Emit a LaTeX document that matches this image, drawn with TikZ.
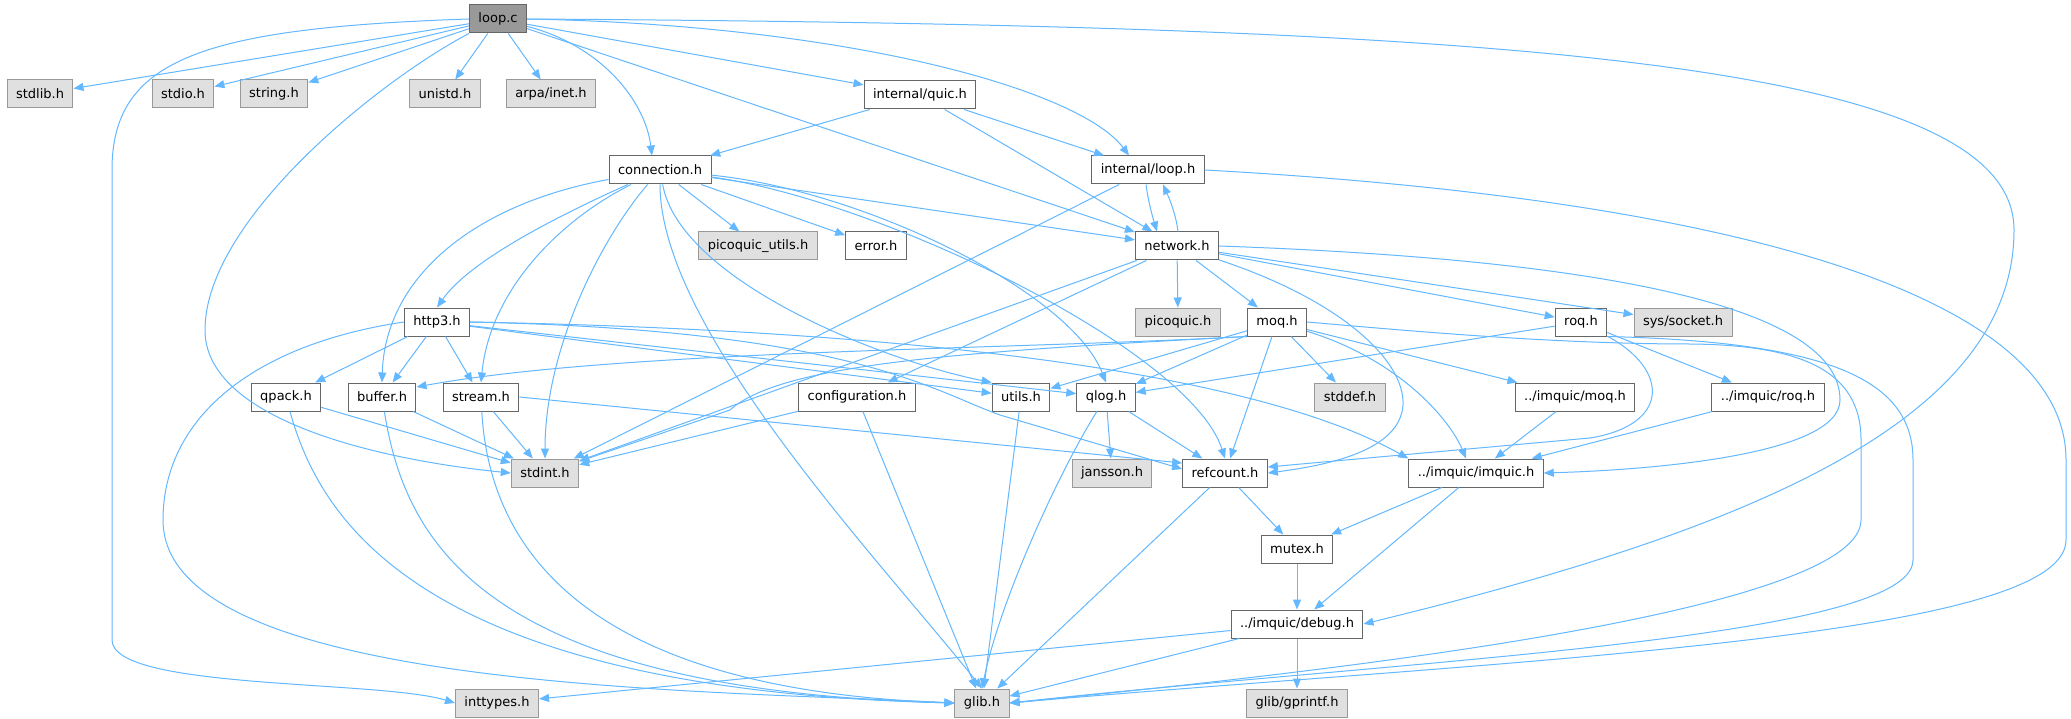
\documentclass[tikz,border=0pt]{standalone}
\usepackage{fontspec}
\setmainfont{DejaVu Sans}
\usetikzlibrary{arrows.meta}
\definecolor{edgeblue}{HTML}{63B8FF}
\definecolor{sysfill}{HTML}{E0E0E0}
\definecolor{sysline}{HTML}{999999}
\definecolor{hdrline}{HTML}{666666}
\definecolor{curfill}{HTML}{999999}
\tikzset{
  hdr/.style={draw=hdrline, fill=white, line width=1pt, minimum height=28pt, inner xsep=9pt, inner ysep=0pt, font=\fontsize{13}{15}\selectfont},
  sys/.style={hdr, draw=sysline, fill=sysfill},
  cur/.style={hdr, fill=curfill},
  inc/.style={draw=edgeblue, line width=1pt, -{Stealth[length=10pt,width=8pt,inset=0pt]}}
}
\begin{document}
\begin{tikzpicture}[x=1pt,y=-1pt]
            \useasboundingbox[fill=white] (0,0) rectangle (2071,719);

            \node[cur] (loop) at (498,19) {loop.c};
            \node[sys] (stdlib) at (40,94) {stdlib.h};
            \node[sys] (stdio) at (183,94) {stdio.h};
            \node[sys] (string) at (274,94) {string.h};
            \node[sys] (unistd) at (445,94) {unistd.h};
            \node[sys] (arpa) at (551,94) {arpa/inet.h};
            \node[hdr] (quic) at (920,95) {internal/quic.h};
            \node[hdr] (connection) at (660,170) {connection.h};
            \node[hdr] (iloop) at (1148,170) {internal/loop.h};
            \node[hdr] (network) at (1177,246) {network.h};
            \node[sys] (picoutils) at (758,246) {picoquic\_utils.h};
            \node[hdr] (error) at (876,246) {error.h};
            \node[hdr] (http3) at (437,322) {http3.h};
            \node[sys] (picoquic) at (1178,322) {picoquic.h};
            \node[hdr] (moq) at (1277,322) {moq.h};
            \node[hdr] (roq) at (1581,322) {roq.h};
            \node[sys] (socket) at (1683,322) {sys/socket.h};
            \node[hdr] (qpack) at (286,397) {qpack.h};
            \node[hdr] (buffer) at (382,397) {buffer.h};
            \node[hdr] (stream) at (481,397) {stream.h};
            \node[hdr] (config) at (857,397) {configuration.h};
            \node[hdr] (utils) at (1021,397) {utils.h};
            \node[hdr] (qlog) at (1106,397) {qlog.h};
            \node[sys] (stddef) at (1350,397) {stddef.h};
            \node[hdr] (imoq) at (1575,397) {../imquic/moq.h};
            \node[hdr] (iroq) at (1768,397) {../imquic/roq.h};
            \node[sys] (stdint) at (545,473) {stdint.h};
            \node[sys] (jansson) at (1112,473) {jansson.h};
            \node[hdr] (refcount) at (1225,473) {refcount.h};
            \node[hdr] (imquic) at (1476,473) {../imquic/imquic.h};
            \node[hdr] (mutex) at (1297,549) {mutex.h};
            \node[hdr] (debug) at (1297,624) {../imquic/debug.h};
            \node[sys] (inttypes) at (497,703) {inttypes.h};
            \node[sys] (glib) at (982,703) {glib.h};
            \node[sys] (gprintf) at (1297,703) {glib/gprintf.h};

            \draw[inc] (loop) -- (stdlib);
            \draw[inc] (loop) -- (stdio);
            \draw[inc] (loop) -- (string);
            \draw[inc] (loop) -- (unistd);
            \draw[inc] (loop) -- (arpa);
            \draw[inc] (loop.west) .. controls (200,28) and (112,60) .. (112,170) -- (112,640) .. controls (112,690) and (380,680) .. (inttypes.west);
            \draw[inc] (loop.south west) .. controls (380,80) and (205,220) .. (205,330) .. controls (205,420) and (380,460) .. (stdint.west);
            \draw[inc] (loop) .. controls (600,45) and (645,100) .. ([xshift=-8pt]connection.north);
            \draw[inc] (loop) -- (network);
            \draw[inc] (loop) -- (quic);
            \draw[inc] (loop.east) .. controls (850,25) and (1080,90) .. ([xshift=-19pt]iloop.north);
            \draw[inc] (loop.east) .. controls (1500,25) and (2014,60) .. (2014,230) .. controls (2014,420) and (1750,530) .. (debug.east);

            \draw[inc] (quic) -- (connection);
            \draw[inc] (quic) -- (iloop);
            \draw[inc] (quic) -- (network);

            \draw[inc] ([xshift=-2pt]iloop.south) .. controls (1148,200) and (1152,215) .. ([xshift=-20pt]network.north);
            \draw[inc] ([xshift=1pt]network.north) .. controls (1176,215) and (1170,200) .. ([xshift=15pt]iloop.south);
            \draw[inc] (iloop) -- (stdint);
            \draw[inc] (iloop.east) .. controls (1750,200) and (2066,300) .. (2066,460) -- (2066,540) .. controls (2066,640) and (1500,660) .. (glib.east);

            \draw[inc] (network) -- (picoquic);
            \draw[inc] (network) -- (moq);
            \draw[inc] (network) -- (roq);
            \draw[inc] (network) -- (socket);
            \draw[inc] (network) -- (stdint);
            \draw[inc] (network) -- (config);
            \draw[inc] (network) .. controls (1340,300) and (1405,360) .. (1403,405) .. controls (1400,450) and (1330,465) .. (refcount.east);
            \draw[inc] (network.east) .. controls (1620,260) and (1840,310) .. (1840,400) .. controls (1840,455) and (1650,470) .. (imquic.east);

            \draw[inc] (connection) -- (network);
            \draw[inc] (connection) -- (picoutils);
            \draw[inc] (connection) -- (error);
            \draw[inc] (connection) .. controls (560,215) and (470,260) .. (http3.north);
            \draw[inc] (connection) .. controls (470,205) and (385,280) .. (buffer.north);
            \draw[inc] (connection) .. controls (560,220) and (490,290) .. (stream.north);
            \draw[inc] (connection) .. controls (600,240) and (545,350) .. (stdint.north);
            \draw[inc] (connection) .. controls (660,330) and (880,560) .. (glib.north);
            \draw[inc] (connection) .. controls (680,280) and (880,360) .. (utils.north west);
            \draw[inc] (connection) .. controls (860,190) and (1070,290) .. (qlog.north);
            \draw[inc] (connection) .. controls (880,200) and (1190,350) .. (refcount.north);

            \draw[inc] (http3) -- (qpack);
            \draw[inc] (http3) -- (buffer);
            \draw[inc] (http3) -- (stream);
            \draw[inc] (http3.west) .. controls (250,345) and (163,420) .. (163,520) .. controls (163,690) and (700,690) .. (glib.west);
            \draw[inc] (http3) -- (utils);
            \draw[inc] (http3) -- (qlog);
            \draw[inc] (http3.east) .. controls (850,330) and (930,390) .. (1000,415) -- ([yshift=4pt]refcount.west);
            \draw[inc] (http3.east) .. controls (900,330) and (1250,370) .. (imquic.north west);

            \draw[inc] (qpack) -- (stdint);
            \draw[inc] (qpack) .. controls (320,520) and (420,690) .. (glib.west);
            \draw[inc] (buffer) -- (stdint);
            \draw[inc] (buffer) .. controls (405,540) and (480,690) .. (glib.west);
            \draw[inc] (stream) -- (stdint);
            \draw[inc] (stream.east) -- ([yshift=10pt]refcount.west);
            \draw[inc] (stream) .. controls (490,560) and (600,690) .. (glib.west);
            \draw[inc] (config) -- (stdint);
            \draw[inc] (config) -- (glib);
            \draw[inc] (utils) -- (glib);
            \draw[inc] (qlog) -- (jansson);
            \draw[inc] (qlog) -- (refcount);
            \draw[inc] (qlog) .. controls (1060,470) and (1000,600) .. (glib.north);
            \draw[inc] (refcount) -- (mutex);
            \draw[inc] (refcount) -- (glib);

            \draw[inc] (moq) -- (utils);
            \draw[inc] (moq) -- (qlog);
            \draw[inc] (moq) -- (refcount);
            \draw[inc] (moq) -- (stddef);
            \draw[inc] (moq) -- (imoq);
            \draw[inc] (moq) .. controls (1400,360) and (1450,420) .. ([xshift=-10pt]imquic.north);
            \draw[inc] (moq.south west) .. controls (1000,350) and (620,350) .. ([yshift=10pt]buffer.east);
            \draw[inc] (moq.south west) .. controls (950,352) and (780,365) .. (730,410) -- (stdint);
            \draw[inc] (moq.east) .. controls (1400,330) and (1550,344) .. (1690,344) .. controls (1800,345) and (1861,370) .. (1861,440) -- (1861,520) .. controls (1861,610) and (1350,670) .. (glib.east);

            \draw[inc] (roq) -- (qlog);
            \draw[inc] (roq) -- (iroq);
            \draw[inc] (roq) .. controls (1670,370) and (1670,425) .. (1590,438) -- ([yshift=6pt]refcount.east);
            \draw[inc] (roq.south east) .. controls (1830,342) and (1913,380) .. (1913,460) -- (1913,560) .. controls (1913,640) and (1400,660) .. (glib.east);

            \draw[inc] (imoq) -- (imquic);
            \draw[inc] (iroq) -- (imquic);
            \draw[inc] (imquic) -- (mutex);
            \draw[inc] (imquic) -- (debug);
            \draw[inc] (mutex) -- (debug);
            \draw[inc] (debug) -- (inttypes);
            \draw[inc] (debug) -- (glib);
            \draw[inc] (debug) -- (gprintf);
        \end{tikzpicture}
\end{document}
